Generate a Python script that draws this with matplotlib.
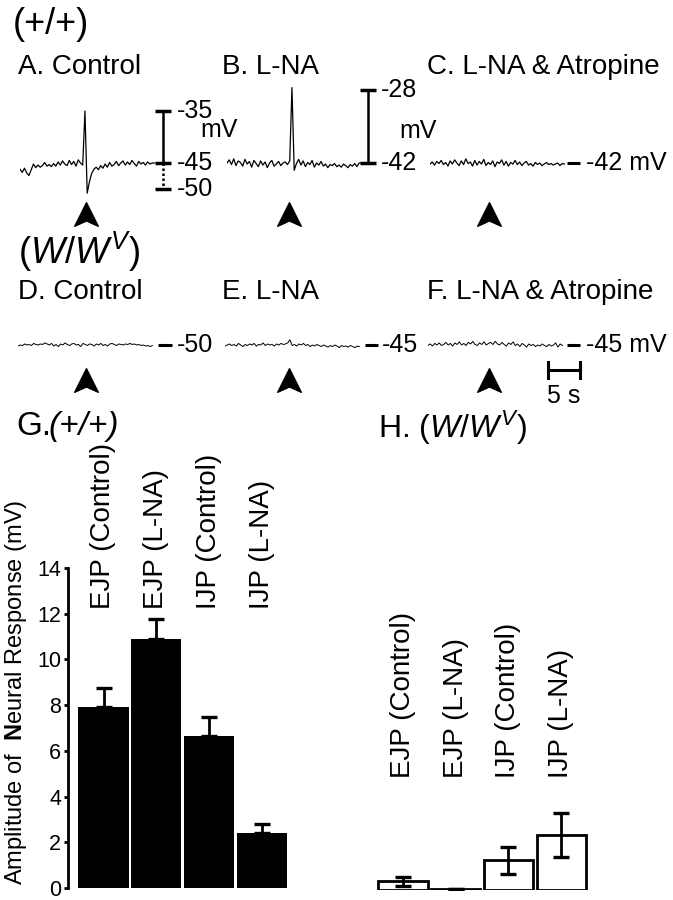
import numpy as np
import matplotlib.pyplot as plt
from matplotlib.path import Path

plt.rcParams['font.family'] = ['Liberation Sans', 'DejaVu Sans']
plt.rcParams['mathtext.fontset'] = 'custom'
plt.rcParams['mathtext.rm'] = 'Liberation Sans'
plt.rcParams['mathtext.it'] = 'Liberation Sans:italic'
plt.rcParams['mathtext.bf'] = 'Liberation Sans:bold'

W, H = 673, 900
DT = 0.35          # s between samples
PX_PER_S = 6.4
PX_PER_MV = 5.2

# --- membrane potential traces (mV) ---
trace_A = [-46.2, -46.8, -46.0, -46.9, -47.4, -46.3, -45.2, -45.9, -45.4, -45.8, -45.5, -44.9, -45.6, -45.3,
           -45.7, -45.1, -45.6, -44.8, -45.4, -44.6, -45.2, -45.5, -44.5, -45.3, -44.7, -45.6, -44.4, -45.0,
           -45.4, -35.0, -50.8, -48.6, -47.0, -46.2, -45.8, -46.3, -45.5, -46.0, -45.2, -45.8, -44.9, -45.6,
           -45.3, -44.7, -45.5, -45.0, -44.6, -45.4, -44.8, -45.3, -44.5, -45.1, -45.6, -44.7, -45.2, -44.9,
           -45.4, -44.8, -45.2, -45.0, -45.0]
trace_B = [-42.0, -41.4, -42.3, -41.2, -42.5, -41.6, -41.9, -42.6, -41.3, -42.2, -41.7, -42.8, -41.5, -42.1,
           -42.7, -41.6, -42.4, -41.8, -42.9, -42.0, -41.5, -42.6, -42.2, -41.7, -42.5, -42.0, -41.8, -42.3,
           -41.6, -27.5, -43.4, -42.1, -41.3, -42.4, -41.6, -42.7, -41.9, -42.3, -41.5, -42.8, -42.0, -42.4,
           -41.7, -42.6, -42.2, -42.9, -42.3, -42.5, -42.1, -42.7, -42.4, -42.8, -42.2, -42.5, -42.9, -42.3,
           -42.6, -42.1, -42.7, -42.0, -42.0]
trace_C = [-42.2, -41.8, -42.4, -41.7, -42.1, -41.5, -42.3, -41.9, -42.6, -41.6, -42.2, -41.4, -42.0, -42.5,
           -41.6, -42.3, -41.2, -42.1, -41.8, -42.6, -41.5, -42.4, -41.7, -42.2, -41.3, -42.5, -41.9, -42.3,
           -41.6, -42.7, -41.8, -42.1, -41.4, -42.4, -41.7, -42.6, -41.9, -42.2, -41.5, -42.3, -41.8, -42.5,
           -42.0, -41.7, -42.4, -42.1, -42.6, -41.9, -42.3, -42.0, -42.5, -42.2, -41.9, -42.3, -42.1, -42.4,
           -42.2, -42.0, -42.5, -42.1, -42.2]
trace_D = [-50.2, -50.0, -50.1, -49.8, -50.0, -49.9, -50.1, -49.7, -49.9, -50.0, -49.8, -49.9, -49.6, -49.8,
           -50.0, -49.7, -50.2, -49.9, -50.3, -49.8, -50.0, -49.6, -49.9, -50.1, -49.8, -49.7, -50.0, -49.9,
           -50.3, -49.7, -49.9, -50.1, -49.8, -49.9, -50.2, -49.8, -50.0, -49.7, -50.1, -49.9, -50.2, -49.8,
           -49.7, -49.9, -50.1, -49.8, -49.9, -50.0, -49.8, -49.9, -49.7, -49.9, -49.8, -50.0, -49.9, -50.1,
           -50.0, -50.2, -50.1, -50.3, -50.1]
trace_E = [-45.2, -45.0, -44.8, -45.1, -44.9, -45.2, -44.7, -45.0, -45.3, -44.9, -45.1, -44.8, -45.0, -44.7,
           -45.2, -44.9, -45.0, -44.6, -45.1, -44.8, -45.0, -44.9, -45.2, -44.8, -45.0, -44.7, -44.9, -44.8,
           -44.6, -44.0, -45.1, -44.9, -45.2, -44.8, -45.0, -44.7, -45.1, -44.9, -45.3, -45.0, -45.2, -44.9,
           -45.1, -45.3, -45.0, -45.2, -45.4, -45.1, -45.3, -45.0, -45.2, -45.5, -45.1, -45.3, -45.2, -45.4,
           -45.1, -45.3, -45.5, -45.2, -45.3]
trace_F = [-45.1, -44.8, -45.2, -44.7, -45.0, -44.6, -45.1, -44.9, -44.5, -45.0, -44.7, -45.2, -44.6, -44.9,
           -44.4, -45.0, -44.7, -45.1, -44.5, -44.8, -44.3, -44.9, -45.1, -44.6, -44.9, -44.4, -45.0, -44.7,
           -44.5, -44.9, -44.3, -44.8, -45.0, -44.5, -44.9, -45.2, -44.6, -44.9, -44.4, -45.1, -44.8, -45.3,
           -44.7, -45.0, -45.4, -44.8, -45.1, -44.9, -45.3, -45.0, -45.2, -44.8, -45.1, -45.3, -44.9, -45.2,
           -45.0, -44.6, -45.4, -44.8, -45.1]

stim_times = [10.3, 9.7, 9.2, 10.6, 10.0, 9.5]        # s, arrowheads A..F
resting = [-45, -42, -42, -50, -45, -45]               # mV baseline per panel
panel_titles = ["A. Control", "B. L-NA", "C. L-NA & Atropine",
                "D. Control", "E. L-NA", "F. L-NA & Atropine"]

# --- bar charts ---
bar_labels = ["EJP (Control)", "EJP (L-NA)", "IJP (Control)", "IJP (L-NA)"]
wt_mean = [7.9, 10.9, 6.65, 2.4]
wt_sem = [0.85, 0.85, 0.85, 0.42]
wv_mean = [0.38, 0.05, 1.3, 2.4]
wv_sem = [0.2, 0.0, 0.58, 0.95]
yticks = [0, 2, 4, 6, 8, 10, 12, 14]

fig = plt.figure(figsize=(W / 100, H / 100), dpi=100)


def px_axes(x0, y0, w, h):
    return fig.add_axes([x0 / W, 1 - (y0 + h) / H, w / W, h / H])


def trace_axes(left, base_px, base_mv, top_off, bot_off, width=215):
    ax = px_axes(left, base_px - top_off, width, top_off + bot_off)
    ax.set_xlim(0, width / PX_PER_S)
    ax.set_ylim(base_mv - bot_off / PX_PER_MV, base_mv + top_off / PX_PER_MV)
    ax.axis('off')
    return ax


arrow = Path([(0, 1), (-1, -1), (0, -0.55), (1, -1), (0, 1)],
             [Path.MOVETO, Path.LINETO, Path.LINETO, Path.LINETO, Path.CLOSEPOLY])

traces = [trace_A, trace_B, trace_C, trace_D, trace_E, trace_F]
lefts = [20, 227, 430, 18, 225, 428]
axs = []
for i, tr in enumerate(traces):
    row2 = i >= 3
    if row2:
        ax = trace_axes(lefts[i], 345, resting[i], 70, 70)
        arrow_y = resting[i] - 35 / PX_PER_MV
        lw = 0.7
    else:
        ax = trace_axes(lefts[i], 163, resting[i], 115, 80)
        arrow_y = resting[i] - 51 / PX_PER_MV
        lw = 0.9
    t = np.arange(len(tr)) * DT
    ax.plot(t, tr, color='k', lw=lw)
    ax.plot([stim_times[i]], [arrow_y], marker=arrow, ms=17, color='k', mec='k', ls='none', clip_on=False)
    axs.append(ax)

num_fs = 18

# A: scale bar -35 / -45 / -50
ax = axs[0]
tb = 22.35
ax.plot([tb, tb], [-35, -45], color='k', lw=1.8, solid_capstyle='butt')
ax.plot([tb, tb], [-45, -50], color='k', lw=1.8, ls=(0, (1, 1)))
for v in [-35, -45, -50]:
    ax.plot([tb - 1.25, tb + 1.25], [v, v], color='k', lw=2.5, solid_capstyle='butt')
ax.text(24.5, -35, "-35", fontsize=num_fs, va='center', ha='left')
ax.text(28.2, -38.7, "mV", fontsize=num_fs, va='center', ha='left')
ax.text(24.5, -45, "-45", fontsize=num_fs, va='center', ha='left')
ax.text(24.5, -50, "-50", fontsize=num_fs, va='center', ha='left')

# B: scale bar -28 / -42
ax = axs[1]
tb = 22.0
ax.plot([tb, tb], [-28, -42], color='k', lw=1.8)
for v in [-28, -42]:
    ax.plot([tb - 1.25, tb + 1.25], [v, v], color='k', lw=2.5, solid_capstyle='butt')
ax.text(24.1, -28, "-28", fontsize=num_fs, va='center', ha='left')
ax.text(26.9, -35.8, "mV", fontsize=num_fs, va='center', ha='left')
ax.text(24.1, -42, "-42", fontsize=num_fs, va='center', ha='left')

# C, D, E, F: resting potential markers
marks = {2: (21.4, 23.4, 24.4, "-42 mV"), 3: (21.9, 24.1, 24.8, "-50"),
         4: (21.9, 23.9, 24.5, "-45"), 5: (21.7, 23.8, 24.7, "-45 mV")}
for i, (a, b, tx, s) in marks.items():
    axs[i].plot([a, b], [resting[i], resting[i]], color='k', lw=2.2, solid_capstyle='butt')
    axs[i].text(tx, resting[i], s, fontsize=num_fs, va='center', ha='left')

# F: 5 s time bar
ax = axs[5]
yb = resting[5] - 25 / PX_PER_MV
ax.plot([18.75, 23.75], [yb, yb], color='k', lw=2.2)
for tt in [18.75, 23.75]:
    ax.plot([tt, tt], [yb - 1.5, yb + 1.5], color='k', lw=2.2)
ax.text(21.25, yb - 2.6, "5 s", fontsize=num_fs, ha='center', va='top')

# group / panel labels
fig.text(13 / W, 1 - 25 / H, "(+/+)", fontsize=26, va='center', ha='left')
fig.text(18 / W, 1 - 252 / H, r"$\mathit{(W/W^{V})}$", fontsize=26, va='center', ha='left')
title_x = [18, 222, 427]
for i, s in enumerate(panel_titles):
    fig.text(title_x[i % 3] / W, 1 - (67 if i < 3 else 292) / H, s, fontsize=20, va='center', ha='left')

# --- G: wild type bars ---
SPACING = 52.7
axg = px_axes(68, 568, 232, 320)
xs = np.arange(len(bar_labels))
axg.bar(xs, wt_mean, width=0.95, color='k')
axg.errorbar(xs, wt_mean, yerr=[[0] * 4, wt_sem], fmt='none', ecolor='k',
             elinewidth=2.0, capsize=6, capthick=2.4)
axg.set_xlim(-(103.5 - 68) / SPACING, -(103.5 - 68) / SPACING + 232 / SPACING)
axg.set_ylim(0, 14)
axg.set_yticks(yticks)
axg.tick_params(axis='y', length=3, width=2, pad=2, labelsize=15.5)
axg.set_xticks([])
for s in ['top', 'right', 'bottom']:
    axg.spines[s].set_visible(False)
axg.spines['left'].set_linewidth(2)
axg.patch.set_visible(False)
for i, lab in enumerate(bar_labels):
    axg.text(i, 12.2, lab, rotation=90, ha='center', va='bottom', fontsize=20, clip_on=False)
fig.text(16 / W, 1 - 692 / H, r"Amplitude of  $\mathbf{N}$eural Response (mV)", fontsize=17,
         rotation=90, ha='center', va='center')

# --- H: W/Wv bars ---
axh = px_axes(340, 570, 300, 320)
axh.bar(xs, wv_mean, width=0.93, facecolor='white', edgecolor='k', linewidth=2.0)
axh.errorbar(xs, wv_mean, yerr=wv_sem, fmt='none', ecolor='k',
             elinewidth=2.0, capsize=6, capthick=2.4)
axh.set_xlim(-(403 - 340) / SPACING, -(403 - 340) / SPACING + 300 / SPACING)
axh.set_ylim(0, 14)
axh.axis('off')
for i, lab in enumerate(bar_labels):
    axh.text(i, 4.9, lab, rotation=90, ha='center', va='bottom', fontsize=20, clip_on=False)

fig.text(16 / W, 1 - 426 / H, "G.", fontsize=24, va='center', ha='left')
fig.text(48 / W, 1 - 426 / H, "(+/+)", fontsize=24, style='italic', va='center', ha='left')
fig.text(378 / W, 1 - 428 / H, r"H. $\mathit{(W/W^{V})}$", fontsize=23, va='center', ha='left')

fig.savefig("out.png", dpi=100)
